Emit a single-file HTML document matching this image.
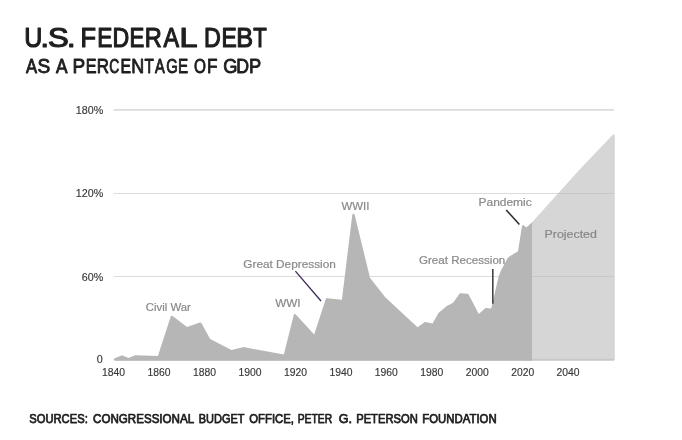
<!DOCTYPE html>
<html lang="en">
<head>
<meta charset="utf-8">
<title>U.S. Federal Debt as a Percentage of GDP</title>
<style>
  html, body { margin: 0; padding: 0; background: #ffffff; }
  body { width: 682px; height: 440px; overflow: hidden; position: relative;
         font-family: "Liberation Sans", sans-serif; }
  svg { display: block; position: absolute; left: 0; top: 0; }
  text { font-family: "Liberation Sans", sans-serif; }
  .title text { font-size: 27.6px; fill: #1e1e1e; stroke: #1e1e1e; stroke-width: 1.2; stroke-linejoin: round; }
  .sub text   { font-size: 20.4px; fill: #1e1e1e; stroke: #1e1e1e; stroke-width: 0.9; stroke-linejoin: round; }
  .src text   { font-size: 12.3px; fill: #1e1e1e; stroke: #1e1e1e; stroke-width: 0.75; stroke-linejoin: round; }
  .tick  { font-size: 10.7px; fill: #383838; stroke: #383838; stroke-width: 0.15; }
  .ann   { font-size: 10.6px; fill: #8a8a8a; stroke: #8a8a8a; stroke-width: 0.2; }
  .grid  { stroke: #dcdcdc; stroke-width: 1; fill: none; }
</style>
</head>
<body>
<svg width="682" height="440" viewBox="0 0 682 440">
  <rect x="0" y="0" width="682" height="440" fill="#ffffff"/>

  <!-- headings -->
  <g class="title">
    <text y="47.3"><tspan x="24.37" textLength="18.06" lengthAdjust="spacingAndGlyphs">U</tspan><tspan x="40.52" textLength="8.46" lengthAdjust="spacingAndGlyphs">.</tspan><tspan x="47.99" textLength="20.74" lengthAdjust="spacingAndGlyphs">S</tspan><tspan x="66.92" textLength="8.46" lengthAdjust="spacingAndGlyphs">.</tspan> <tspan x="80.52" textLength="15.50" lengthAdjust="spacingAndGlyphs">F</tspan><tspan x="97.14" textLength="15.14" lengthAdjust="spacingAndGlyphs">E</tspan><tspan x="112.60" textLength="16.70" lengthAdjust="spacingAndGlyphs">D</tspan><tspan x="129.58" textLength="14.77" lengthAdjust="spacingAndGlyphs">E</tspan><tspan x="144.67" textLength="17.03" lengthAdjust="spacingAndGlyphs">R</tspan><tspan x="163.45" textLength="15.59" lengthAdjust="spacingAndGlyphs">A</tspan><tspan x="179.63" textLength="16.78" lengthAdjust="spacingAndGlyphs">L</tspan> <tspan x="203.89" textLength="16.83" lengthAdjust="spacingAndGlyphs">D</tspan><tspan x="221.52" textLength="15.26" lengthAdjust="spacingAndGlyphs">E</tspan><tspan x="236.23" textLength="16.79" lengthAdjust="spacingAndGlyphs">B</tspan><tspan x="253.20" textLength="13.50" lengthAdjust="spacingAndGlyphs">T</tspan></text>
  </g>
  <g class="sub">
    <text y="73.3"><tspan x="26.12" textLength="11.06" lengthAdjust="spacingAndGlyphs">A</tspan><tspan x="37.58" textLength="12.74" lengthAdjust="spacingAndGlyphs">S</tspan> <tspan x="56.02" textLength="10.56" lengthAdjust="spacingAndGlyphs">A</tspan> <tspan x="72.39" textLength="12.66" lengthAdjust="spacingAndGlyphs">P</tspan><tspan x="85.82" textLength="10.83" lengthAdjust="spacingAndGlyphs">E</tspan><tspan x="96.75" textLength="12.28" lengthAdjust="spacingAndGlyphs">R</tspan><tspan x="109.34" textLength="10.03" lengthAdjust="spacingAndGlyphs">C</tspan><tspan x="120.45" textLength="10.58" lengthAdjust="spacingAndGlyphs">E</tspan><tspan x="131.18" textLength="12.93" lengthAdjust="spacingAndGlyphs">N</tspan><tspan x="144.60" textLength="9.40" lengthAdjust="spacingAndGlyphs">T</tspan><tspan x="155.02" textLength="9.76" lengthAdjust="spacingAndGlyphs">A</tspan><tspan x="166.30" textLength="11.56" lengthAdjust="spacingAndGlyphs">G</tspan><tspan x="178.09" textLength="10.21" lengthAdjust="spacingAndGlyphs">E</tspan> <tspan x="194.02" textLength="11.96" lengthAdjust="spacingAndGlyphs">O</tspan><tspan x="206.94" textLength="10.50" lengthAdjust="spacingAndGlyphs">F</tspan> <tspan x="223.13" textLength="14.18" lengthAdjust="spacingAndGlyphs">G</tspan><tspan x="236.30" textLength="12.80" lengthAdjust="spacingAndGlyphs">D</tspan><tspan x="248.95" textLength="12.16" lengthAdjust="spacingAndGlyphs">P</tspan></text>
  </g>

  <!-- grid lines -->
  <line class="grid" x1="113.5" x2="613.8" y1="109.9" y2="109.9" style="stroke-width:1.6"/>
  <line class="grid" x1="113.5" x2="613.8" y1="193.5" y2="193.5"/>
  <line class="grid" x1="113.5" x2="613.8" y1="276.5" y2="276.5"/>
  <line class="grid" x1="114.5" x2="613.8" y1="359.6" y2="359.6" style="stroke-width:1.8"/>

  <!-- projected area -->
  <path d="M613.60,360.70 L613.83,360.68 L614.06,360.61 L614.27,360.50 L614.45,360.35 L614.60,360.17 L614.71,359.96 L614.78,359.73 L614.80,359.50 L614.80,135.60 L614.78,135.36 L614.71,135.14 L614.59,134.93 L614.44,134.74 L614.26,134.59 L614.05,134.49 L613.82,134.42 L613.58,134.40 L613.34,134.43 L613.12,134.50 L612.91,134.62 L612.73,134.77 L579.21,169.99 L558.00,193.50 L531.90,222.60 L524.33,230.65 L524.19,230.83 L524.08,231.03 L524.02,231.25 L524.00,231.48 L524.00,359.50 L524.02,359.73 L524.09,359.96 L524.20,360.17 L524.35,360.35 L524.53,360.50 L524.74,360.61 L524.97,360.68 L525.20,360.70 Z" fill="#b6b6b6" opacity="0.56"/>

  <!-- historical area -->
  <clipPath id="histclip"><rect x="0" y="0" width="531.9" height="440"/></clipPath>
  <path d="M535.90,360.70 L536.13,360.68 L536.36,360.61 L536.57,360.50 L536.75,360.35 L536.90,360.17 L537.01,359.96 L537.08,359.73 L537.10,359.50 L537.10,220.69 L537.08,220.46 L537.01,220.24 L536.91,220.04 L536.77,219.86 L536.59,219.71 L536.40,219.59 L536.18,219.52 L535.95,219.49 L535.72,219.50 L535.50,219.56 L535.29,219.65 L535.11,219.79 L526.20,227.60 L524.21,225.53 L524.05,225.39 L523.85,225.28 L523.64,225.20 L523.43,225.17 L523.20,225.17 L522.99,225.22 L522.78,225.31 L522.60,225.43 L522.44,225.58 L522.03,226.09 L521.94,226.29 L521.89,226.50 L518.00,251.20 L508.24,257.30 L507.93,257.58 L501.23,270.05 L498.72,276.10 L491.25,308.50 L486.08,308.05 L485.84,308.05 L485.60,308.11 L485.38,308.21 L485.18,308.35 L478.75,314.00 L468.50,294.35 L468.37,294.15 L468.20,293.97 L467.99,293.84 L467.77,293.75 L467.53,293.71 L460.60,293.19 L460.36,293.20 L460.12,293.26 L459.89,293.36 L459.70,293.51 L459.54,293.69 L453.10,302.70 L447.32,305.63 L447.09,305.78 L438.50,313.00 L432.50,323.40 L425.49,322.00 L425.25,321.98 L425.00,322.01 L424.77,322.08 L424.55,322.21 L417.50,327.30 L385.00,297.00 L370.00,277.80 L354.65,214.73 L354.57,214.50 L354.45,214.30 L354.29,214.12 L354.10,213.98 L353.89,213.88 L353.65,213.82 L353.42,213.81 L353.18,213.85 L352.96,213.93 L352.76,214.06 L352.58,214.22 L352.44,214.42 L352.35,214.63 L352.30,214.87 L341.90,299.70 L327.04,298.13 L326.80,298.12 L326.57,298.17 L326.36,298.25 L326.16,298.38 L325.99,298.54 L325.86,298.73 L325.77,298.95 L314.20,334.40 L295.79,314.43 L295.62,314.27 L295.42,314.15 L295.20,314.07 L294.96,314.04 L294.73,314.05 L294.50,314.11 L294.29,314.21 L294.10,314.35 L293.95,314.53 L293.83,314.73 L293.75,314.95 L283.80,354.40 L243.46,347.12 L243.20,347.10 L242.94,347.14 L231.50,350.10 L210.20,339.00 L201.32,323.06 L201.18,322.86 L201.01,322.70 L200.80,322.57 L200.58,322.48 L200.34,322.44 L200.10,322.45 L199.87,322.51 L187.00,327.00 L172.59,316.04 L172.40,315.92 L172.19,315.84 L171.96,315.80 L171.73,315.80 L171.51,315.85 L171.30,315.94 L171.11,316.07 L170.95,316.23 L170.82,316.41 L170.73,316.62 L157.90,356.00 L135.55,355.18 L135.30,355.20 L135.06,355.27 L128.60,357.90 L122.43,355.58 L122.22,355.52 L122.00,355.50 L121.78,355.53 L121.57,355.59 L114.66,358.30 L114.45,358.41 L114.26,358.56 L114.11,358.74 L113.99,358.95 L113.92,359.18 L113.90,359.42 L113.92,359.73 L113.99,359.96 L114.10,360.17 L114.25,360.35 L114.43,360.50 L114.64,360.61 L114.87,360.68 L115.10,360.70 Z" clip-path="url(#histclip)" fill="#b6b6b6"/>

  <!-- annotation leader lines -->
  <line x1="295.4" y1="271.2" x2="321" y2="301" stroke="#3f2a56" stroke-width="1.3"/>
  <line x1="492.8" y1="269" x2="492.8" y2="303.8" stroke="#444444" stroke-width="1.6"/>
  <line x1="506.2" y1="210" x2="519.4" y2="224.6" stroke="#2a2a2a" stroke-width="1.5"/>

  <!-- y axis labels -->
  <text class="tick" x="103.2" y="113.7" text-anchor="end">180%</text>
  <text class="tick" x="103.2" y="197.2" text-anchor="end">120%</text>
  <text class="tick" x="103.2" y="280.5" text-anchor="end">60%</text>
  <text class="tick" x="102.7" y="363.4" text-anchor="end">0</text>

  <!-- x axis labels -->
  <g class="tick" text-anchor="middle" style="font-size:10.35px">
    <text x="113.6" y="375.8">1840</text>
    <text x="159" y="375.8">1860</text>
    <text x="204.5" y="375.8">1880</text>
    <text x="250" y="375.8">1900</text>
    <text x="295.4" y="375.8">1920</text>
    <text x="340.9" y="375.8">1940</text>
    <text x="386.3" y="375.8">1960</text>
    <text x="431.8" y="375.8">1980</text>
    <text x="477.2" y="375.8">2000</text>
    <text x="522.7" y="375.8">2020</text>
    <text x="568.1" y="375.8">2040</text>
  </g>

  <!-- annotations -->
  <g class="ann">
    <text x="145.8" y="311.3" textLength="45.0" lengthAdjust="spacingAndGlyphs">Civil War</text>
    <text x="275.2" y="307.3" textLength="25.4" lengthAdjust="spacingAndGlyphs">WWI</text>
    <text x="243.3" y="268.1" textLength="92.5" lengthAdjust="spacingAndGlyphs">Great Depression</text>
    <text x="341.5" y="209.5" textLength="27.9" lengthAdjust="spacingAndGlyphs">WWII</text>
    <text x="419" y="264.3" textLength="86.3" lengthAdjust="spacingAndGlyphs">Great Recession</text>
    <text x="478.5" y="206.3" textLength="53.2" lengthAdjust="spacingAndGlyphs">Pandemic</text>
    <text x="544.6" y="237.8" textLength="52.3" lengthAdjust="spacingAndGlyphs" style="fill:#858585">Projected</text>
  </g>

  <!-- source -->
  <g class="src">
    <text y="422.9"><tspan x="29.2" textLength="58.6" lengthAdjust="spacingAndGlyphs">SOURCES:</tspan> <tspan x="93.1" textLength="100.6" lengthAdjust="spacingAndGlyphs">CONGRESSIONAL</tspan> <tspan x="198.7" textLength="45.6" lengthAdjust="spacingAndGlyphs">BUDGET</tspan> <tspan x="249.3" textLength="44.7" lengthAdjust="spacingAndGlyphs">OFFICE,</tspan> <tspan x="297.7" textLength="34.4" lengthAdjust="spacingAndGlyphs">PETER</tspan> <tspan x="338.7" textLength="13.3" lengthAdjust="spacingAndGlyphs">G.</tspan> <tspan x="356.2" textLength="61.6" lengthAdjust="spacingAndGlyphs">PETERSON</tspan> <tspan x="422.3" textLength="74.3" lengthAdjust="spacingAndGlyphs">FOUNDATION</tspan></text>
  </g>
</svg>
</body>
</html>
